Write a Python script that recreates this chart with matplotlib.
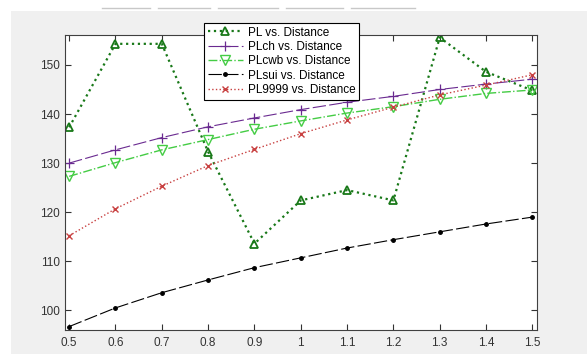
import matplotlib.pyplot as plt
from matplotlib.patches import Rectangle

distance = [0.5, 0.6, 0.7, 0.8, 0.9, 1.0, 1.1, 1.2, 1.3, 1.4, 1.5]
pl = [137.3, 154.3, 154.3, 132.3, 113.6, 122.4, 124.5, 122.4, 155.6, 148.6, 144.8]
pl_ch = [130.0, 132.7, 135.2, 137.4, 139.2, 140.9, 142.4, 143.6, 145.0, 146.1, 147.1]
pl_cwb = [127.3, 130.1, 132.7, 134.8, 136.9, 138.6, 140.2, 141.5, 143.0, 144.2, 144.9]
pl_sui = [96.7, 100.5, 103.6, 106.2, 108.7, 110.7, 112.7, 114.4, 116.0, 117.6, 119.0]
pl_9999 = [115.2, 120.7, 125.3, 129.5, 132.8, 136.0, 138.8, 141.4, 143.9, 145.9, 148.0]

xticks = [0.5, 0.6, 0.7, 0.8, 0.9, 1, 1.1, 1.2, 1.3, 1.4, 1.5]
xticklabels = ['0.5', '0.6', '0.7', '0.8', '0.9', '1', '1.1', '1.2', '1.3', '1.4', '1.5']
yticks = [100, 110, 120, 130, 140, 150]

plt.rcParams['font.family'] = ['Liberation Sans', 'DejaVu Sans']

fig = plt.figure(figsize=(5.87, 3.54), dpi=100)
fig.patch.set_facecolor('white')
# grey matlab figure window area
fig.patches.append(Rectangle((11/587, 0), 1, 1 - 11/354, transform=fig.transFigure,
                             facecolor='#f0f0f0', edgecolor='none', zorder=-10))
for x0, x1 in [(102, 150), (158, 210), (218, 278), (286, 343), (351, 415)]:
    fig.add_artist(plt.Line2D([x0/587, x1/587], [1 - 8/354, 1 - 8/354], color='#c8c8c8', lw=1))

ax = fig.add_axes([65/587, 24/354, 472/587, 295/354])
ax.set_facecolor('white')

ax.plot(distance, pl, ':', color='#187818', lw=1.6, marker='^', ms=5.5, mfc='none', mew=1.3,
        label='PL vs. Distance')
ax.plot(distance, pl_ch, color='#6a2a90', lw=0.8, dashes=(12, 3), marker='+', ms=7, mew=0.9,
        label='PLch vs. Distance')
ax.plot(distance, pl_cwb, '-.', color='#44cc44', lw=1, marker='v', ms=6.5, mfc='none',
        label='PLcwb vs. Distance')
ax.plot(distance, pl_sui, color='black', lw=0.8, dashes=(12, 3), marker='.', ms=5,
        label='PLsui vs. Distance')
ax.plot(distance, pl_9999, ':', color='#c84040', lw=1, marker='x', ms=4,
        label='PL9999 vs. Distance')

ax.set_xlim(0.491, 1.51)
ax.set_ylim(96.0, 156.1)
ax.set_xticks(xticks)
ax.set_xticklabels(xticklabels)
ax.set_yticks(yticks)
ax.tick_params(direction='in', top=True, right=True, labelsize=8.5, length=4, colors='#333333')
ax.tick_params(axis='x', pad=5)
for s in ax.spines.values():
    s.set_color('#404040')
    s.set_linewidth(0.8)

leg = fig.legend(loc='upper left', bbox_to_anchor=(204/587, 1 - 23/354), fontsize=8.5,
                 fancybox=False, framealpha=1, edgecolor='black', handlelength=3,
                 borderpad=0.3, labelspacing=0.2, handletextpad=0.4, borderaxespad=0)
leg.get_frame().set_linewidth(0.8)

fig.savefig('out.png', dpi=100)
